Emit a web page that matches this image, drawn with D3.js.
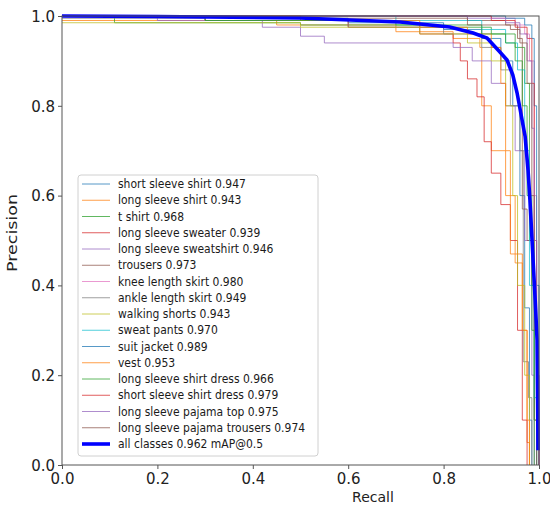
<!DOCTYPE html>
<html>
<head>
<meta charset="utf-8">
<script src="https://cdn.jsdelivr.net/npm/d3@7"></script>
<style>
  body { margin: 0; background: #fff; }
  svg { display: block; font-family: "DejaVu Sans", sans-serif; }
</style>
</head>
<body>
<div class="js-vis"></div>
<script>
// class names and AP values from the legend
const classNames = [
  'short sleeve shirt', 'long sleeve shirt', 't shirt', 'long sleeve sweater',
  'long sleeve sweatshirt', 'trousers', 'knee length skirt', 'ankle length skirt',
  'walking shorts', 'sweat pants', 'suit jacket', 'vest',
  'long sleeve shirt dress', 'short sleeve shirt dress', 'long sleeve pajama top',
  'long sleeve pajama trousers'
]
const classAP = [0.947, 0.943, 0.968, 0.939, 0.946, 0.973, 0.980, 0.949,
                 0.943, 0.970, 0.989, 0.953, 0.966, 0.979, 0.975, 0.974]
const meanAP = 0.962

// per class PR curves, [recall, precision] steps
const curveShortSleeveShirt = [[0,1],[0.35,0.995],[0.6,0.985],[0.8,0.97],[0.88,0.95],[0.92,0.9],[0.945,0.8],[0.96,0.6],[0.97,0.35],[0.98,0.1],[0.985,0]]
const curveLongSleeveShirt = [[0,0.99],[0.45,0.98],[0.7,0.965],[0.82,0.95],[0.876,0.93],[0.88,0.8],[0.9,0.7],[0.93,0.6],[0.95,0.45],[0.965,0.3],[0.975,0.05],[0.98,0]]
const curveTShirt = [[0,1],[0.11,0.985],[0.5,0.98],[0.75,0.975],[0.9,0.96],[0.95,0.93],[0.97,0.85],[0.98,0.5],[0.99,0.1],[0.995,0]]
const curveLongSleeveSweater = [[0,1],[0.3,0.99],[0.6,0.975],[0.75,0.96],[0.82,0.94],[0.835,0.9],[0.85,0.86],[0.87,0.82],[0.885,0.72],[0.9,0.65],[0.92,0.58],[0.94,0.5],[0.955,0.3],[0.965,0.1],[0.975,0]]
const curveLongSleeveSweatshirt = [[0,1],[0.2,0.99],[0.42,0.975],[0.5,0.955],[0.55,0.94],[0.82,0.93],[0.86,0.9],[0.9,0.85],[0.93,0.8],[0.95,0.7],[0.97,0.5],[0.985,0.2],[0.99,0]]
const curveTrousers = [[0,1],[0.85,0.99],[0.93,0.98],[0.955,0.95],[0.965,0.57],[0.975,0.5],[0.985,0.4],[0.99,0.1],[0.995,0]]
const curveKneeLengthSkirt = [[0,1],[0.9,0.995],[0.95,0.98],[0.97,0.96],[0.98,0.9],[0.99,0.6],[0.995,0.2],[1,0]]
const curveAnkleLengthSkirt = [[0,0.995],[0.3,0.99],[0.6,0.975],[0.8,0.96],[0.88,0.93],[0.92,0.88],[0.94,0.8],[0.96,0.7],[0.967,0.23],[0.978,0.15],[0.985,0]]
const curveWalkingShorts = [[0,0.985],[0.5,0.975],[0.75,0.96],[0.85,0.94],[0.9,0.9],[0.93,0.8],[0.945,0.6],[0.955,0.4],[0.97,0.2],[0.98,0]]
const curveSweatPants = [[0,1],[0.7,0.99],[0.88,0.97],[0.93,0.94],[0.955,0.88],[0.97,0.7],[0.98,0.4],[0.99,0.15],[0.995,0]]
const curveSuitJacket = [[0,1],[0.93,0.995],[0.97,0.98],[0.985,0.95],[0.99,0.8],[0.995,0.4],[1,0]]
const curveVest = [[0,1],[0.5,0.99],[0.75,0.975],[0.85,0.96],[0.9,0.93],[0.92,0.85],[0.93,0.7],[0.94,0.47],[0.965,0.3],[0.975,0.1],[0.98,0]]
const curveLongSleeveShirtDress = [[0,1],[0.3,0.99],[0.7,0.98],[0.88,0.96],[0.93,0.94],[0.95,0.9],[0.965,0.8],[0.975,0.6],[0.985,0.3],[0.99,0]]
const curveShortSleeveShirtDress = [[0,1],[0.9,0.99],[0.95,0.975],[0.975,0.95],[0.985,0.85],[0.99,0.5],[0.995,0.1],[1,0]]
const curveLongSleevePajamaTop = [[0,1],[0.85,0.995],[0.93,0.985],[0.96,0.96],[0.975,0.9],[0.985,0.75],[0.99,0.5],[0.995,0.2],[1,0]]
const curveLongSleevePajamaTrousers = [[0,1],[0.5,0.995],[0.85,0.98],[0.94,0.97],[0.96,0.94],[0.975,0.85],[0.985,0.6],[0.99,0.3],[0.995,0]]

// mean curve over all classes
const curveAll = [[0,1],[0.2,0.999],[0.499,0.9955],[0.709,0.9866],[0.813,0.9755],[0.862,0.962],[0.891,0.951],
                  [0.918,0.92],[0.933,0.902],[0.945,0.869],[0.954,0.829],[0.971,0.731],[0.977,0.657],
                  [0.981,0.59],[0.992,0.367],[0.996,0.278],[0.998,0.033]]

const ticks = [0, 0.2, 0.4, 0.6, 0.8, 1.0]

const classCurves = [
  curveShortSleeveShirt, curveLongSleeveShirt, curveTShirt, curveLongSleeveSweater,
  curveLongSleeveSweatshirt, curveTrousers, curveKneeLengthSkirt, curveAnkleLengthSkirt,
  curveWalkingShorts, curveSweatPants, curveSuitJacket, curveVest,
  curveLongSleeveShirtDress, curveShortSleeveShirtDress, curveLongSleevePajamaTop,
  curveLongSleevePajamaTrousers
]

const ewidth = 550,
    eheight = 506

const margin = { top: 16, right: 11, bottom: 41, left: 62 },
    width = ewidth - margin.left - margin.right,
    height = eheight - margin.top - margin.bottom

const color = d3.scaleOrdinal(d3.schemeCategory10)

const svg = d3.select(".js-vis").append("svg")
    .attr("width", ewidth)
    .attr("height", eheight)

const vis = svg.append("g")
    .attr("transform", "translate(" + margin.left + "," + margin.top + ")")

const x = d3.scaleLinear()
  .domain([0, 1])
  .range([0, width])

const y = d3.scaleLinear()
  .domain([0, 1])
  .range([height, 0])

const stepLine = d3.line()
  .x(function(d) { return x(d[0]) })
  .y(function(d) { return y(d[1]) })
  .curve(d3.curveStepAfter)

const plainLine = d3.line()
  .x(function(d) { return x(d[0]) })
  .y(function(d) { return y(d[1]) })

vis.selectAll(".pr")
  .data(classCurves)
.enter().append("path")
  .attr("class", "pr")
  .attr("d", stepLine)
  .attr("fill", "none")
  .attr("stroke", function(d, i) { return color(i % 10) })
  .attr("stroke-width", 1)
  .attr("stroke-opacity", 0.75)

vis.append("path")
  .datum(curveAll)
  .attr("d", plainLine)
  .attr("fill", "none")
  .attr("stroke", "#0000ff")
  .attr("stroke-width", 3.6)

// frame and axes
vis.append("rect")
  .attr("width", width)
  .attr("height", height)
  .attr("fill", "none")
  .attr("stroke", "#555")

const xax = d3.axisBottom(x).tickValues(ticks).tickFormat(d3.format(".1f")).tickSize(4),
    yax = d3.axisLeft(y).tickValues(ticks).tickFormat(d3.format(".1f")).tickSize(4)

const gx = vis.append("g")
  .attr("transform", "translate(0," + height + ")")
  .call(xax)
const gy = vis.append("g")
  .call(yax)

;[gx, gy].forEach(function(g) {
  g.select(".domain").remove()
  g.selectAll("line").attr("stroke", "#555")
  g.selectAll("text")
    .attr("fill", "#222")
    .style("font-family", "DejaVu Sans")
    .style("font-size", "15px")
})
gx.selectAll("text").attr("dy", "0.8em")
gy.selectAll("text").attr("dy", "0.35em").attr("x", -7)

svg.append("text")
  .attr("x", 373)
  .attr("y", 502)
  .attr("text-anchor", "middle")
  .attr("fill", "#222")
  .style("font-size", "14px")
  .text("Recall")

svg.append("text")
  .attr("transform", "translate(17,233) rotate(-90) scale(1.25,1)")
  .attr("text-anchor", "middle")
  .attr("fill", "#222")
  .style("font-size", "14px")
  .text("Precision")

// legend
const labels = classNames.map(function(n, i) { return n + " " + classAP[i].toFixed(3) })
labels.push("all classes " + meanAP.toFixed(3) + " mAP@0.5")

const leg = svg.append("g")
  .attr("transform", "translate(78,175)")

leg.append("rect")
  .attr("width", 240)
  .attr("height", 281)
  .attr("rx", 3)
  .attr("fill", "#fff")
  .attr("fill-opacity", 0.8)
  .attr("stroke", "#d0d0d0")

const row = leg.selectAll(".row")
  .data(labels)
.enter().append("g")
  .attr("class", "row")
  .attr("transform", function(d, i) { return "translate(0," + (9 + i * 16.25) + ")" })

row.append("line")
  .attr("x1", 4)
  .attr("x2", 32)
  .attr("stroke", function(d, i) { return i < 16 ? color(i % 10) : "#0000ff" })
  .attr("stroke-opacity", function(d, i) { return i < 16 ? 0.75 : 1 })
  .attr("stroke-width", function(d, i) { return i < 16 ? 1 : 3.6 })

row.append("text")
  .attr("x", 40)
  .attr("transform", "scale(1,1.12)")
  .attr("dy", "0.35em")
  .attr("fill", "#1a1a1a")
  .style("font-size", "10.8px")
  .text(String)
</script>
</body>
</html>
